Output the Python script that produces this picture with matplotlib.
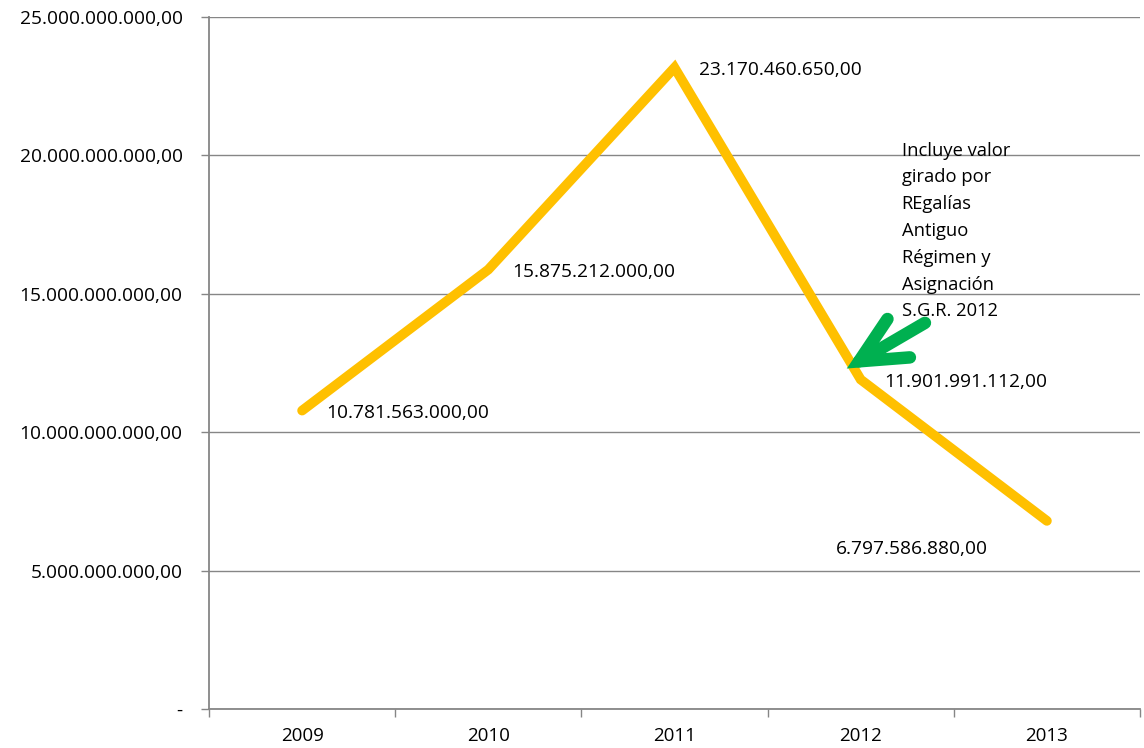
import matplotlib.pyplot as plt
from matplotlib.ticker import FixedLocator, FuncFormatter

# Giros por año
years = ["2009", "2010", "2011", "2012", "2013"]
values = [10781563000.00, 15875212000.00, 23170460650.00, 11901991112.00, 6797586880.00]
y_ticks = [0, 5e9, 10e9, 15e9, 20e9, 25e9]
note = "Incluye valor\ngirado por\nREgalías\nAntiguo\nRégimen y\nAsignación\nS.G.R. 2012"


def fmt_es(v):
    # formato con punto de miles y coma decimal
    s = f"{v:,.2f}"
    return s.replace(",", "X").replace(".", ",").replace("X", ".")


plt.rcParams["font.family"] = ["Open Sans", "DejaVu Sans"]
FS = 13.8

fig = plt.figure(figsize=(11.44, 7.48), dpi=100)
ax = fig.add_axes([0.1827, 0.0521, 0.8138, 0.9252])

x = list(range(1, len(years) + 1))
ax.plot(x, values, color="#FFC000", linewidth=7,
        solid_capstyle="round", solid_joinstyle="miter", zorder=3)

# etiquetas de datos
for i, v in enumerate(values):
    if i == len(values) - 1:
        off = (-211, -28)
    else:
        off = (24, -2)
    ax.annotate(fmt_es(v), (x[i], v), xytext=off, textcoords="offset pixels",
                ha="left", va="center", fontsize=FS)

# nota y flecha
ax.text(4.22, 20.5e9, note, ha="left", va="top", fontsize=13.2, linespacing=1.63)
ax.annotate("", xy=(3.925, 12.3e9), xytext=(4.345, 13.95e9),
            arrowprops=dict(arrowstyle="->,head_length=1.65,head_width=0.8",
                            color="#00B050", lw=9, mutation_scale=20,
                            shrinkA=0, shrinkB=0, capstyle="round",
                            joinstyle="miter"), zorder=4)

ax.set_xlim(0.5, len(years) + 0.5)
ax.set_ylim(0, 25e9)

# ticks en los límites de categoría, etiquetas en el centro
ax.xaxis.set_major_locator(FixedLocator([i + 0.5 for i in range(len(years) + 1)]))
ax.set_xticklabels([], minor=False)
ax.set_xticks(x, years, minor=True)
ax.tick_params(axis="x", which="major", length=6, color="#868686", width=1)
ax.tick_params(axis="x", which="minor", length=0, pad=13, labelsize=13.5)

ax.set_yticks(y_ticks)
ax.yaxis.set_major_formatter(FuncFormatter(lambda v, p: "-" if v == 0 else fmt_es(v)))
ax.tick_params(axis="y", length=6, color="#868686", width=1, pad=13, labelsize=FS)

ax.grid(axis="y", color="#868686", linewidth=1)
ax.set_axisbelow(True)
for side in ["top", "right"]:
    ax.spines[side].set_visible(False)
for side in ["left", "bottom"]:
    ax.spines[side].set_color("#868686")
    ax.spines[side].set_linewidth(1.3)

fig.savefig("out.png", dpi=100)
